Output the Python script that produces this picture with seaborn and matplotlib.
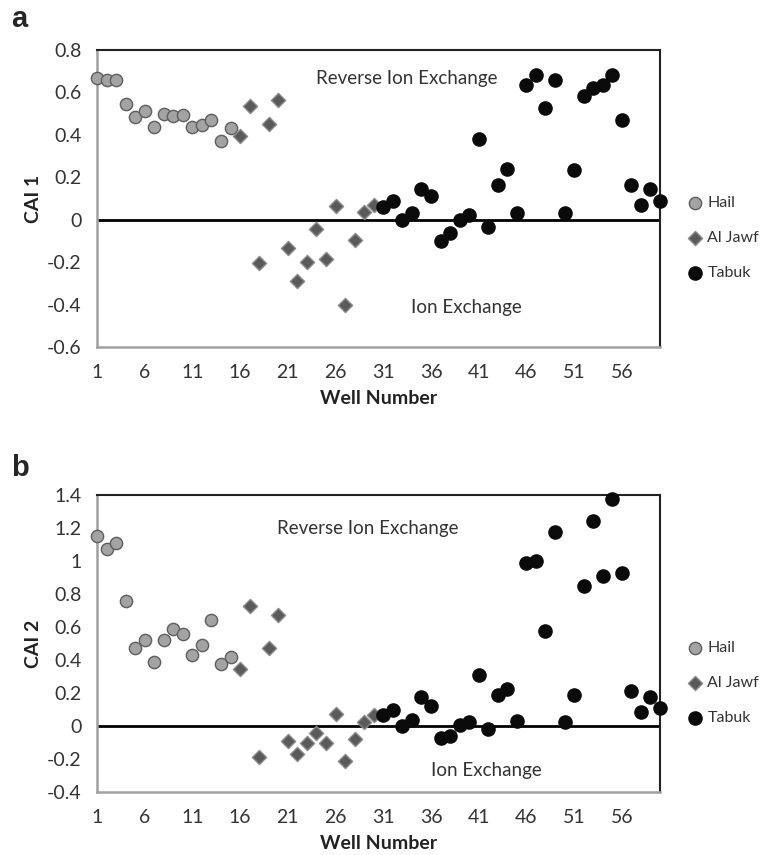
import numpy as np
import pandas as pd
import seaborn as sns
import matplotlib.pyplot as plt
from matplotlib.ticker import FuncFormatter, MultipleLocator

# Valores (CAI 1 y CAI 2 por pozo)
hail_wells = list(range(1, 16))
jawf_wells = list(range(16, 31))
tabuk_wells = list(range(31, 61))

hail_cai1 = [0.67, 0.66, 0.66, 0.545, 0.485, 0.51, 0.435, 0.50, 0.49, 0.495,
             0.435, 0.445, 0.47, 0.37, 0.43]
jawf_cai1 = [0.395, 0.535, -0.205, 0.45, 0.565, -0.135, -0.29, -0.20, -0.045, -0.185,
             0.065, -0.40, -0.095, 0.035, 0.07]
tabuk_cai1 = [0.06, 0.09, 0.0, 0.03, 0.145, 0.11, -0.10, -0.065, 0.0, 0.02,
              0.38, -0.035, 0.165, 0.24, 0.03, 0.635, 0.68, 0.525, 0.66, 0.03,
              0.235, 0.585, 0.62, 0.635, 0.68, 0.47, 0.165, 0.07, 0.145, 0.09]

hail_cai2 = [1.15, 1.07, 1.11, 0.76, 0.47, 0.52, 0.39, 0.52, 0.59, 0.555,
             0.43, 0.49, 0.645, 0.375, 0.42]
jawf_cai2 = [0.345, 0.725, -0.185, 0.47, 0.675, -0.09, -0.17, -0.105, -0.04, -0.105,
             0.07, -0.215, -0.08, 0.025, 0.065]
tabuk_cai2 = [0.065, 0.095, 0.0, 0.035, 0.175, 0.12, -0.07, -0.06, 0.005, 0.025,
              0.31, -0.02, 0.185, 0.225, 0.03, 0.985, 1.0, 0.575, 1.175, 0.025,
              0.19, 0.85, 1.245, 0.91, 1.375, 0.925, 0.21, 0.085, 0.175, 0.11]

x_ticks = list(range(1, 61, 5))

sns.set_style('white')
plt.rcParams['font.family'] = ['Lato', 'DejaVu Sans']

fig = plt.figure(figsize=(7.77, 8.55), dpi=100)
ax_a = fig.add_axes([0.1248, 0.5942, 0.7246, 0.3474])
ax_b = fig.add_axes([0.1248, 0.0737, 0.7246, 0.3474])

estilos = [
    ('Hail', 'o', '#a3a3a3', '#5e5e5e', 78),
    ('Al Jawf', 'D', '#5a5a5a', '#8a8a8a', 52),
    ('Tabuk', 'o', '#0a0a0a', '#0a0a0a', 90),
]


def panel(ax, datos, ylim, ylabel, letra, letra_y, textos):
    for (nombre, marker, fc, ec, s), (pozos, vals) in zip(estilos, datos):
        df = pd.DataFrame({'Pozo': pozos, 'CAI': vals})
        sns.scatterplot(data=df, x='Pozo', y='CAI', ax=ax, marker=marker, color=fc,
                        edgecolor=ec, linewidth=1.0, s=s, label=nombre,
                        clip_on=False, zorder=3)
    ax.axhline(0, color='black', lw=2, zorder=2)
    ax.set_xlim(1, 60)
    ax.set_ylim(*ylim)
    ax.set_xticks(x_ticks)
    ax.yaxis.set_major_locator(MultipleLocator(0.2))
    ax.yaxis.set_major_formatter(FuncFormatter(lambda v, p: f'{round(v, 1):g}'))
    ax.tick_params(axis='both', length=0, labelsize=14, colors='#333333')
    ax.tick_params(axis='y', pad=11)
    ax.tick_params(axis='x', pad=12)
    for lado in ['top', 'right']:
        ax.spines[lado].set_color('#222222')
        ax.spines[lado].set_linewidth(1.5)
    for lado in ['left', 'bottom']:
        ax.spines[lado].set_color('#a0a0a0')
        ax.spines[lado].set_linewidth(1.8)
    ax.set_xlabel('Well Number', fontsize=14, fontweight='bold', color='#222222')
    ax.set_ylabel(ylabel, fontsize=14, fontweight='bold', color='#222222')
    ax.xaxis.set_label_coords(0.5, -0.145)
    ax.yaxis.set_label_coords(-0.098, 0.5)
    for (tx, ty, t) in textos:
        ax.text(tx, ty, t, ha='center', va='center', fontsize=13.5, color='#333333')
    ax.text(-0.152, letra_y, letra, transform=ax.transAxes, fontsize=21,
            fontweight='bold', family='Liberation Sans', ha='left', va='center')
    ax.legend(loc='center left', bbox_to_anchor=(1.05, 0.367), frameon=False,
              fontsize=11.5, handlelength=0.8, handletextpad=0.4, labelspacing=1.3,
              borderpad=0, borderaxespad=0, labelcolor='#333333')


panel(ax_a, [(hail_wells, hail_cai1), (jawf_wells, jawf_cai1), (tabuk_wells, tabuk_cai1)],
      (-0.6, 0.8), 'CAI 1', 'a', 1.105,
      [(33.5, 0.663, 'Reverse Ion Exchange'), (39.7, -0.413, 'Ion Exchange')])
panel(ax_b, [(hail_wells, hail_cai2), (jawf_wells, jawf_cai2), (tabuk_wells, tabuk_cai2)],
      (-0.4, 1.4), 'CAI 2', 'b', 1.09,
      [(29.4, 1.198, 'Reverse Ion Exchange'), (41.8, -0.27, 'Ion Exchange')])

fig.savefig('out.png', dpi=100, facecolor='white')
